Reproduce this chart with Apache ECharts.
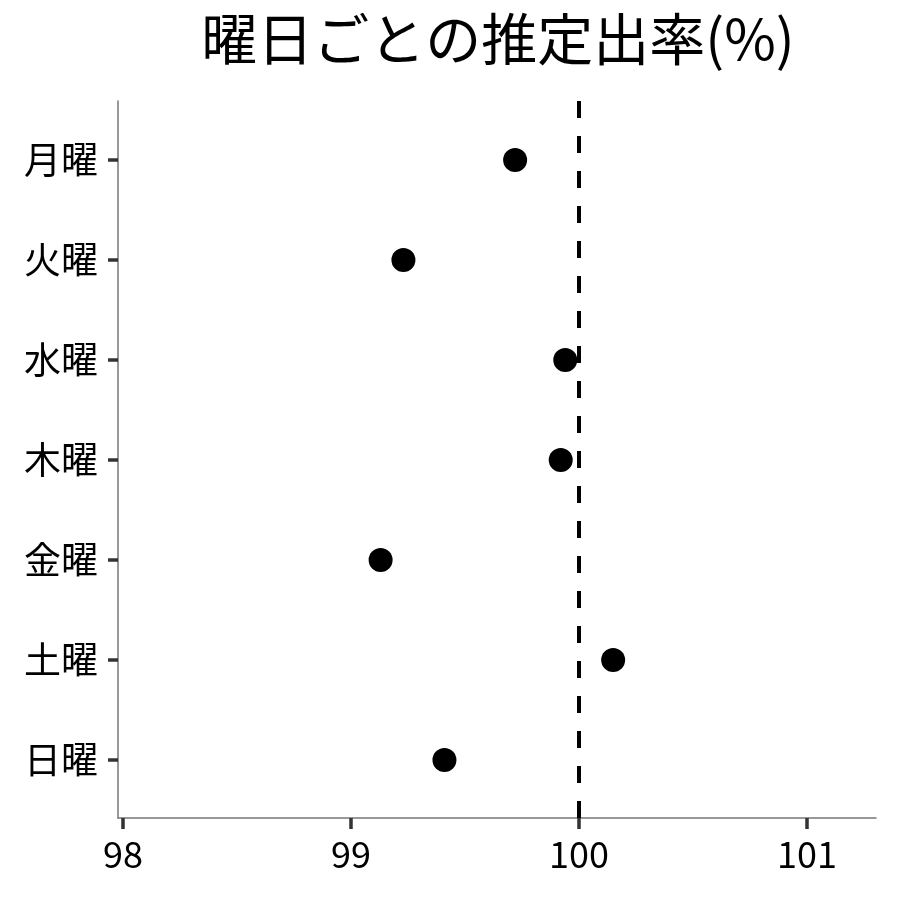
<!DOCTYPE html>
<html><head><meta charset="utf-8">
<script src="https://cdn.jsdelivr.net/npm/echarts@6/dist/echarts.min.js"></script>
<style>html,body{margin:0;padding:0;background:#fff}#c{width:900px;height:900px}</style>
</head><body><div id="c"></div>
<script>
const titleText = '曜日ごとの推定出率(%)';
const days = ['月曜','火曜','水曜','木曜','金曜','土曜','日曜'];
const rates = [99.72, 99.23, 99.94, 99.92, 99.13, 100.15, 99.41];
const xTicks = [98, 99, 100, 101];
const xRange = [97.978, 101.303];
const refValue = 100;

const FONT = '"Noto Sans CJK JP", "Noto Sans", sans-serif';
const dayPos = days.map((d, i) => i + 1);
const chart = echarts.init(document.getElementById('c'), null, {renderer: 'canvas'});
chart.setOption({
  backgroundColor: '#ffffff',
  animation: false,
  title: {
    text: titleText,
    left: 493, top: 6, textAlign: 'center',
    textStyle: {fontFamily: FONT, fontSize: 56, fontWeight: 'normal', color: '#000'}
  },
  grid: {left: 118, right: 24, top: 101, bottom: 82, containLabel: false, outerBoundsMode: 'none'},
  xAxis: {
    type: 'value', min: xRange[0], max: xRange[1],
    splitLine: {show: false},
    axisLine: {show: true, onZero: false, lineStyle: {color: '#777', width: 1.5}},
    axisTick: {show: true, customValues: xTicks, length: 11, lineStyle: {color: '#333', width: 3.5}},
    axisLabel: {customValues: xTicks, margin: 18, fontFamily: FONT, fontSize: 36, color: '#000',
      formatter: v => String(Math.round(v))}
  },
  yAxis: {
    type: 'value', inverse: true, min: 0.41, max: 7.58,
    splitLine: {show: false},
    axisLine: {show: true, onZero: false, lineStyle: {color: '#777', width: 1.5}},
    axisTick: {show: true, customValues: dayPos, length: 10, lineStyle: {color: '#333', width: 3.5}},
    axisLabel: {customValues: dayPos, margin: 20, fontFamily: FONT, fontSize: 37, color: '#000',
      formatter: v => days[Math.round(v) - 1]}
  },
  series: [{
    type: 'scatter',
    symbol: 'circle', symbolSize: 24,
    itemStyle: {color: '#000', opacity: 1},
    data: days.map((d, i) => [rates[i], i + 1]),
    markLine: {
      silent: true, symbol: 'none', label: {show: false},
      lineStyle: {color: '#000', width: 4, type: [17, 18], opacity: 1},
      data: [{xAxis: refValue}]
    },
    z: 3
  }]
});
</script></body></html>
